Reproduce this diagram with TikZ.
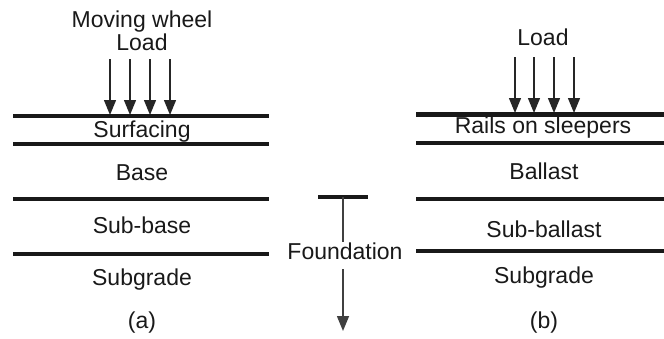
\documentclass[tikz,border=0pt]{standalone}
\usepackage{fontspec}
\setmainfont{Liberation Sans}
\usetikzlibrary{arrows.meta}
\begin{document}
\begin{tikzpicture}[x=1pt,y=-1pt,
  lbl/.style={anchor=base,inner sep=0pt,font=\fontsize{23}{27}\selectfont,text=black!90},
  thickrule/.style={line width=4.2pt,black!90},
  thinrule/.style={line width=3.2pt,black!90},
  load/.style={line width=1.3pt,black!85,-{Triangle[width=12pt,length=15pt]}},
  depth/.style={line width=1.5pt,black!75}]
\useasboundingbox (0,0) rectangle (664,338);

% ---- (a) pavement
\node[lbl] (mw) at (142,27) {Moving wheel};
\node[lbl] (la) at (142,50) {Load};
\coordinate (a1s) at (110,59); \coordinate (a1e) at (110,115);
\coordinate (a2s) at (130,59); \coordinate (a2e) at (130,115);
\coordinate (a3s) at (150,59); \coordinate (a3e) at (150,115);
\coordinate (a4s) at (170,59); \coordinate (a4e) at (170,115);
\foreach \i in {1,...,4} \draw[load] (a\i s) -- (a\i e);

\coordinate (aL1) at (13,116); \coordinate (aR1) at (269,116);
\coordinate (aL2) at (13,144); \coordinate (aR2) at (269,144);
\coordinate (aL3) at (13,199); \coordinate (aR3) at (269,199);
\coordinate (aL4) at (13,254); \coordinate (aR4) at (269,254);
\draw[thickrule] (aL1) -- (aR1);
\draw[thickrule] (aL2) -- (aR2);
\draw[thinrule]  (aL3) -- (aR3);
\draw[thickrule] (aL4) -- (aR4);

\node[lbl] (surf) at (142,137) {Surfacing};
\node[lbl] (base) at (142,180) {Base};
\node[lbl] (sbase) at (142,233) {Sub-base};
\node[lbl] (sgA) at (142,285) {Subgrade};
\node[lbl] (capA) at (142,328) {(a)};

% ---- foundation marker
\coordinate (tL) at (318,197); \coordinate (tR) at (368,197);
\coordinate (tM) at (343,197);
\draw[thickrule] (tL) -- (tR);
\node[lbl] (found) at (345,259) {Foundation};
\coordinate (fTop) at (343,242);
\coordinate (fBot) at (343,269);
\coordinate (fEnd) at (343,331);
\draw[depth] (tM) -- (fTop);
\draw[depth,-{Triangle[width=12pt,length=15pt]}] (fBot) -- (fEnd);

% ---- (b) track
\node[lbl] (lb) at (543,45) {Load};
\coordinate (b1s) at (515,57); \coordinate (b1e) at (515,113);
\coordinate (b2s) at (534,57); \coordinate (b2e) at (534,113);
\coordinate (b3s) at (554,57); \coordinate (b3e) at (554,113);
\coordinate (b4s) at (574,57); \coordinate (b4e) at (574,113);
\foreach \i in {1,...,4} \draw[load] (b\i s) -- (b\i e);

\coordinate (bL1) at (416,114); \coordinate (bR1) at (664,114);
\coordinate (bL2) at (416,143); \coordinate (bR2) at (664,143);
\coordinate (bL3) at (416,199); \coordinate (bR3) at (664,199);
\coordinate (bL4) at (416,251); \coordinate (bR4) at (664,251);
\draw[line width=5pt,black!90] (bL1) -- (bR1);
\draw[thinrule]  (bL2) -- (bR2);
\draw[thickrule] (bL3) -- (bR3);
\draw[thickrule] (bL4) -- (bR4);

\node[lbl] (rails) at (543,133) {Rails on sleepers};
\node[lbl] (ballast) at (544,179) {Ballast};
\node[lbl] (sball) at (544,237) {Sub-ballast};
\node[lbl] (sgB) at (544,283) {Subgrade};
\node[lbl] (capB) at (544,328) {(b)};
\end{tikzpicture}
\end{document}
